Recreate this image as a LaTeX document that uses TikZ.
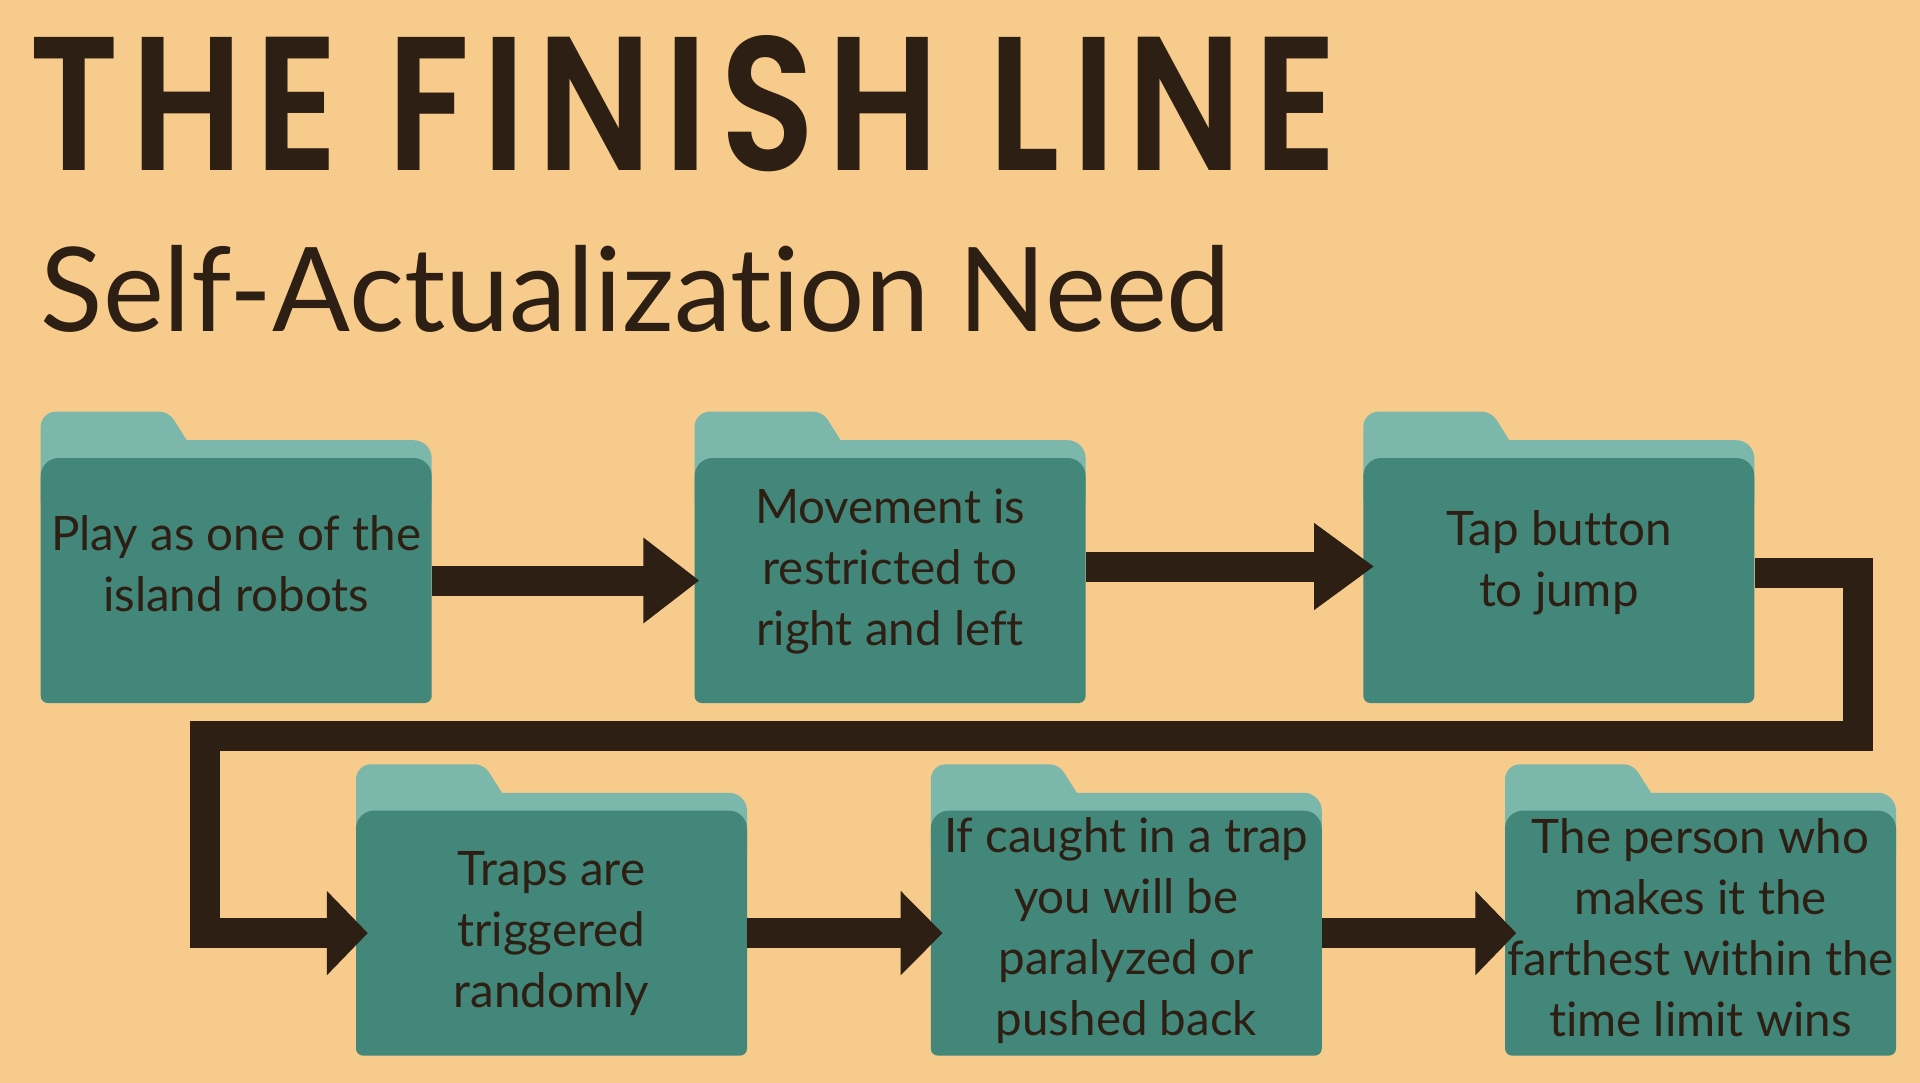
\documentclass[tikz,border=0pt]{standalone}
\usepackage{fontspec}
\setmainfont{Lato}[Ligatures=NoCommon]
\newfontfamily\titlefont{Poppins SemiBold}[LetterSpace=8]
\usetikzlibrary{arrows.meta}
\definecolor{bgc}{RGB}{247,203,139}
\definecolor{tabc}{RGB}{124,183,172}
\definecolor{frontc}{RGB}{66,135,122}
\definecolor{inkc}{RGB}{45,31,19}
\newcommand\ctrlines[1]{\vtop{\halign{\hfil##\hfil\cr#1\crcr}}}
\newcommand\folder[3]{%
  \fill[tabc] [rounded corners=15pt] (#2,#3+90) -- (#2,#3) [rounded corners=9pt] -- (#2+128,#3) [sharp corners] -- (#2+146,#3+28.5) [rounded corners=18pt] -- (#2+391,#3+28.5) [sharp corners] -- (#2+391,#3+90) -- cycle;
  \fill[frontc] [rounded corners=7pt] (#2+195,#3+291.3) -- (#2,#3+291.3) [rounded corners=18pt] -- (#2,#3+46.3) -- (#2+391,#3+46.3) [rounded corners=7pt] -- (#2+391,#3+291.3) -- (#2+195,#3+291.3);
  \node[panel] (#1) at (#2+195.5,#3+168.8) {};
}
\begin{document}
\begin{tikzpicture}[x=1pt,y=-1pt,
  panel/.style={rectangle, minimum width=391pt, minimum height=245pt, inner sep=0pt},
  lbl/.style={anchor=base, inner sep=0pt, text=inkc, font=\fontsize{47.5}{61}\selectfont},
  conn/.style={draw=inkc, line width=30pt, line join=miter}]
\useasboundingbox (0,0) rectangle (1920,1083);
\fill[bgc] (0,0) rectangle (1920,1083);

\node[anchor=north west, inner sep=0pt, text=inkc] (title) at (29,35)
  {\resizebox{1308pt}{135pt}{\titlefont THE FINISH LINE}};
\node[anchor=base west, inner sep=0pt, text=inkc, font=\fontsize{117}{140}\selectfont] (subtitle) at (40.5,331.5)
  {\scalebox{0.985}[1]{Self-Actualization Need}};

\folder{f1}{40.7}{411.7}
\folder{f2}{694.6}{411.7}
\folder{f3}{1363.3}{411.7}
\folder{f4}{356}{764.3}
\folder{f5}{930.8}{764.3}
\folder{f6}{1505}{764.3}

\node[lbl] (t1) at (236.2,550.7) {\ctrlines{Play as one of the\cr island robots}};
\node[lbl] (t2) at (890.1,523.3) {\ctrlines{Movement is\cr restricted to\cr right and left}};
\node[lbl] (t3) at (1558.8,545.7) {\ctrlines{Tap button\cr to jump}};
\node[lbl] (t4) at (551.5,885) {\ctrlines{Traps are\cr triggered\cr randomly}};
\node[lbl] (t5) at (1126.3,852) {\ctrlines{If caught in a trap\cr you will be\cr paralyzed or\cr pushed back}};
\node[lbl] (t6) at (1700.5,853) {\ctrlines{The person who\cr makes it the\cr farthest within the\cr time limit wins}};

\coordinate (b1) at (1858,736);
\coordinate (b2) at (204.5,736);

\draw[conn, -{Triangle[length=56pt,width=82pt]}, shorten >=-5pt] (f1.east) -- (f2.west);
\draw[conn, -{Triangle[length=60pt,width=83pt]}, shorten >=-11pt] ([yshift=14pt]f2.east) -- ([yshift=14pt]f3.west);
\draw[conn, -{Triangle[length=41pt,width=82pt]}, shorten >=-12pt] ([yshift=8pt]f3.east) -| (b1) -- (b2) |- (f4.west);
\draw[conn, -{Triangle[length=42pt,width=82pt]}, shorten >=-12pt] (f4.east) -- (f5.west);
\draw[conn, -{Triangle[length=41pt,width=82pt]}, shorten >=-11.5pt] (f5.east) -- (f6.west);
\end{tikzpicture}
\end{document}
